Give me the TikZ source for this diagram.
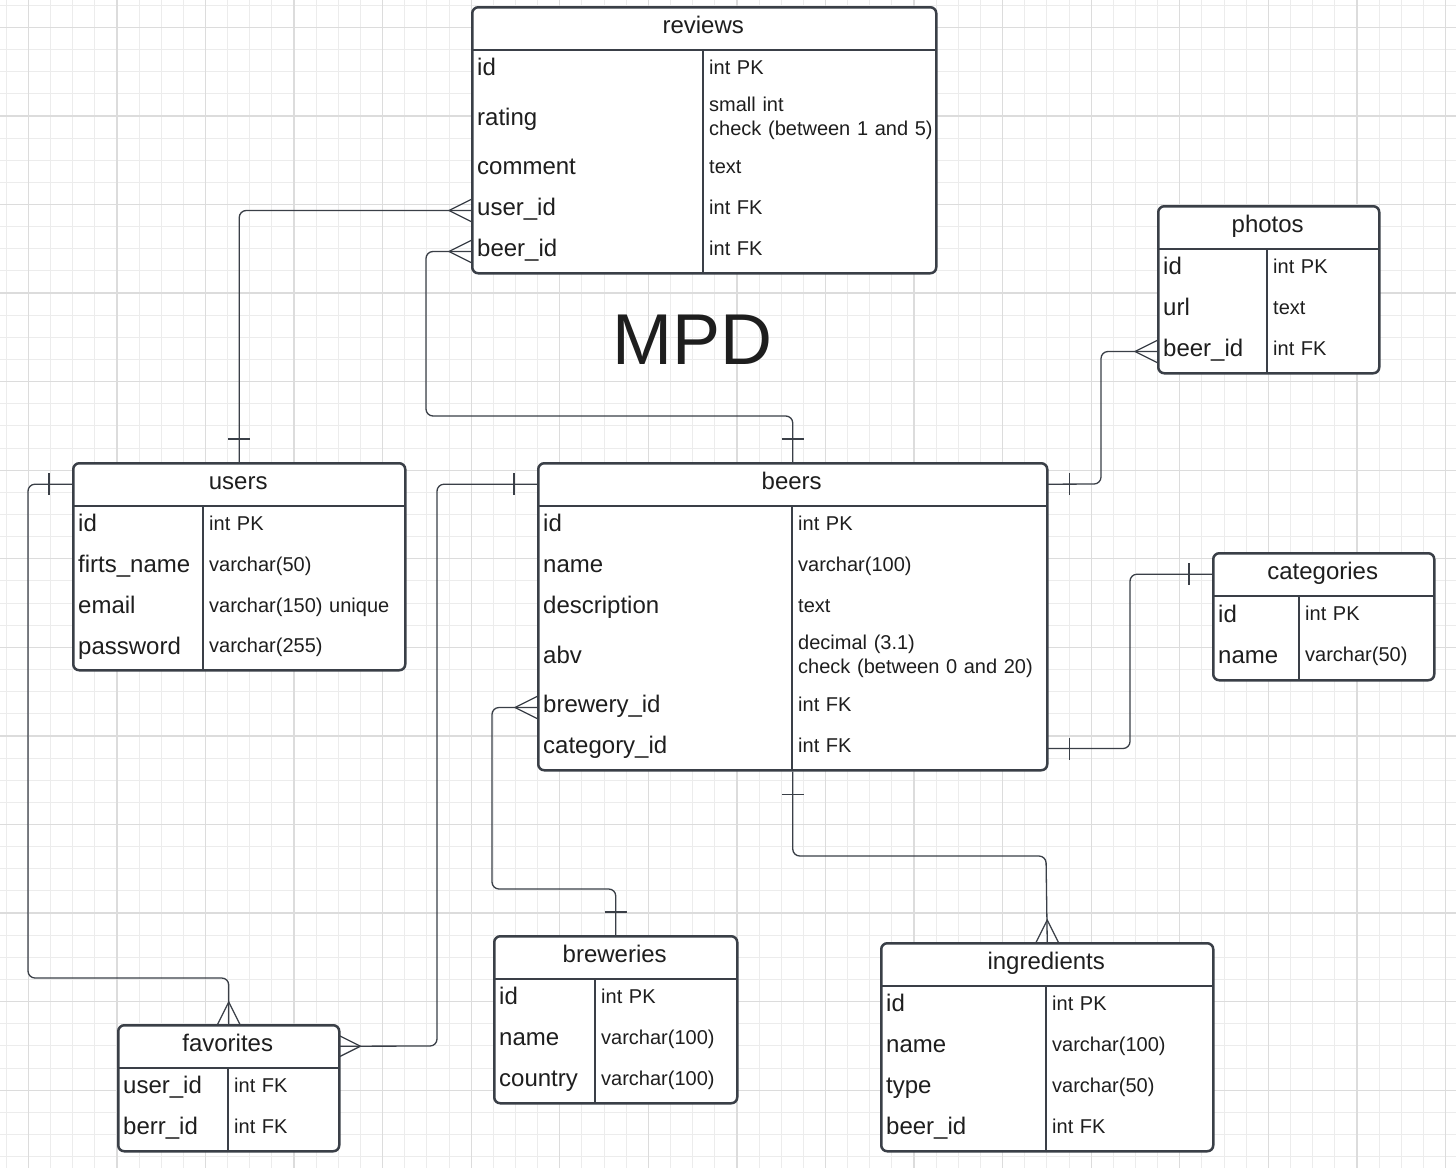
\documentclass[tikz,border=0pt]{standalone}
\usepackage{fontspec}
\setmainfont{Liberation Sans}
\usetikzlibrary{calc}
\definecolor{ln}{RGB}{58,63,71}
\definecolor{tx}{RGB}{30,30,30}
\definecolor{gmin}{RGB}{236,236,236}
\definecolor{gmaj}{RGB}{220,220,220}
\tikzset{
  x=1pt, y=-1pt,
  tbl/.style={draw=ln, line width=2.5pt, rounded corners=6pt, fill=white, inner sep=0pt, anchor=north west},
  hdr/.style={anchor=north west, text=tx, font=\fontsize{24}{28}\selectfont, inner sep=0pt, text height=10.6pt, text depth=0pt},
  sepline/.style={draw=ln, line width=2pt},
  conn/.style={draw=ln, line width=1.3pt, rounded corners=7pt},
  cfline/.style={draw=ln, line width=1.3pt},
  nmcell/.style={anchor=west, text=tx, font=\fontsize{24}{28}\selectfont, inner xsep=6pt, inner ysep=0pt, align=left, text height=10.6pt, text depth=0pt},
  tycell/.style={anchor=west, text=tx, font=\fontsize{20}{24}\selectfont, inner xsep=6pt, inner ysep=0pt, align=left, text height=7.9pt, text depth=0pt},
  twoline/.style={text height=4pt, text depth=20.14pt, text width=250pt},
  gridmin/.style={draw=gmin, line width=1pt},
  gridmaj/.style={draw=gmaj, line width=1.3pt},
}
% #1 id, #2 left, #3 top, #4 column, #5 right, #6 bottom, #7 title
\newcommand\ertable[7]{%
  \def\erL{#2}\def\erC{#4}\def\erR{#5}%
  \pgfmathsetmacro\erW{#5-#2}\pgfmathsetmacro\erH{#6-#3}\pgfmathsetmacro\erS{#3+44}%
  \node[tbl, minimum width=\erW pt, minimum height=\erH pt] (#1) at (#2,#3) {};
  \node[hdr, minimum width=\erW pt, minimum height=44pt] (#1-h) at (#2,#3) {#7};
  \draw[sepline] (#2,\erS) -- (#5,\erS);
  \draw[sepline] (#4,\erS) -- (#4,#6);
}
% [#1 extra type style] #2 id, #3 centre y, #4 name, #5 type
\newcommand\errow[5][]{%
  \pgfmathsetmacro\erwn{\erC-\erL-12}\pgfmathsetmacro\erwt{\erR-\erC-12}%
  \node[nmcell, text width=\erwn pt] (#2) at (\erL,#3) {#4};
  \node[tycell, text width=\erwt pt, #1] (#2-t) at (\erC,#3) {#5};
}
\newcommand\crowW[1]{\draw[cfline] ($(#1)+(0,-11)$) -- ($(#1)+(-22,0)$) -- ($(#1)+(0,11)$);}
\newcommand\crowE[1]{\draw[cfline] ($(#1)+(0,-11)$) -- ($(#1)+(22,0)$) -- ($(#1)+(0,11)$);}
\newcommand\crowN[1]{\draw[cfline] ($(#1)+(-11,0)$) -- ($(#1)+(0,-22)$) -- ($(#1)+(11,0)$);}
\newcommand\barN[1]{\draw[cfline] ($(#1)+(-11,-23)$) -- ($(#1)+(11,-23)$);}
\newcommand\barS[1]{\draw[cfline] ($(#1)+(-11,23)$) -- ($(#1)+(11,23)$);}
\newcommand\barW[1]{\draw[cfline] ($(#1)+(-23,-11)$) -- ($(#1)+(-23,11)$);}
\newcommand\barE[1]{\draw[cfline] ($(#1)+(23,-11)$) -- ($(#1)+(23,11)$);}
\begin{document}
\begin{tikzpicture}
\useasboundingbox[fill=white] (0,0) rectangle (1456,1168);
% grid
\foreach \i in {0,...,66} {\pgfmathsetmacro\gx{6.16+22.143*\i}\draw[gridmin] (\gx,0) -- (\gx,1168);}
\foreach \j in {0,...,53} {\pgfmathsetmacro\gy{5.16+22.143*\j}\draw[gridmin] (0,\gy) -- (1456,\gy);}
\foreach \i in {0,...,16} {\pgfmathsetmacro\gx{28.3+88.57*\i}\draw[gridmaj] (\gx,0) -- (\gx,1168);}
\foreach \j in {0,...,13} {\pgfmathsetmacro\gy{27.3+88.57*\j}\draw[gridmaj] (0,\gy) -- (1456,\gy);}

% title
\node[anchor=base, text=tx, font=\fontsize{72}{80}\selectfont, inner sep=0pt] (mpd) at (692.5,364) {MPD};

% reviews
\ertable{rv}{471}{6}{703}{935}{272}{reviews}
\errow{rv-id}{70.5}{id}{int PK}
\errow[twoline]{rv-rating}{120}{rating}{small int\\check (between 1 and 5)}
\errow{rv-comment}{169.5}{comment}{text}
\errow{rv-user}{210.5}{user\_id}{int FK}
\errow{rv-beer}{251.5}{beer\_id}{int FK}

% photos
\ertable{ph}{1157}{205}{1267}{1378}{372}{photos}
\errow{ph-id}{269.5}{id}{int PK}
\errow{ph-url}{310.5}{url}{text}
\errow{ph-beer}{351.5}{beer\_id}{int FK}

% users
\ertable{us}{72}{462}{203}{404}{669}{users}
\errow{us-id}{526.5}{id}{int PK}
\errow{us-fn}{567.5}{firts\_name}{varchar(50)}
\errow{us-email}{608.5}{email}{varchar(150) unique}
\errow{us-pw}{649}{password}{varchar(255)}

% beers
\ertable{be}{537}{462}{792}{1046}{769}{beers}
\errow{be-id}{526.5}{id}{int PK}
\errow{be-name}{567.5}{name}{varchar(100)}
\errow{be-desc}{608.5}{description}{text}
\errow[twoline]{be-abv}{658}{abv}{decimal (3.1)\\check (between 0 and 20)}
\errow{be-brew}{707.5}{brewery\_id}{int FK}
\errow{be-cat}{748.5}{category\_id}{int FK}

% categories
\ertable{ca}{1212}{552}{1299}{1433}{679}{categories}
\errow{ca-id}{617}{id}{int PK}
\errow{ca-name}{658}{name}{varchar(50)}

% breweries
\ertable{br}{493}{935}{595}{736}{1102}{breweries}
\errow{br-id}{999.5}{id}{int PK}
\errow{br-name}{1040.5}{name}{varchar(100)}
\errow{br-country}{1081.5}{country}{varchar(100)}

% ingredients
\ertable{ing}{880}{942}{1046}{1212}{1150}{ingredients}
\errow{ing-id}{1006.5}{id}{int PK}
\errow{ing-name}{1047.5}{name}{varchar(100)}
\errow{ing-type}{1088.5}{type}{varchar(50)}
\errow{ing-beer}{1129.5}{beer\_id}{int FK}

% favorites
\ertable{fav}{117}{1024}{228}{338}{1150}{favorites}
\errow{fav-user}{1088.5}{user\_id}{int FK}
\errow{fav-beer}{1129.5}{berr\_id}{int FK}

% connectors
\draw[conn] (rv-user.west) -| (us.north);
\crowW{rv-user.west}\barN{us.north}

\draw[conn] (rv-beer.west) -| (426,416) -| (be.north);
\crowW{rv-beer.west}\barN{be.north}

\draw[conn] (ph-beer.west) -| (1101,484) -- (be-h.east);
\crowW{ph-beer.west}\barE{be-h.east}

\draw[conn] (ca-h.west) -| (1130,748.5) -- (be-cat-t.east);
\barW{ca-h.west}\barE{be-cat-t.east}

\draw[conn] (be-brew.west) -| (492,889) -| (br.north);
\crowW{be-brew.west}\barN{br.north}

\draw[conn] (be.south) |- (1046,856) -- (ing.north);
\barS{be.south}\crowN{ing.north}

\draw[conn] (us-h.west) -| (28,978) -| (fav.north);
\barW{us-h.west}\crowN{fav.north}

\draw[conn] (be-h.west) -| (437,1046) -- (fav-h.east);
\barW{be-h.west}\crowE{fav-h.east}
\end{tikzpicture}
\end{document}
